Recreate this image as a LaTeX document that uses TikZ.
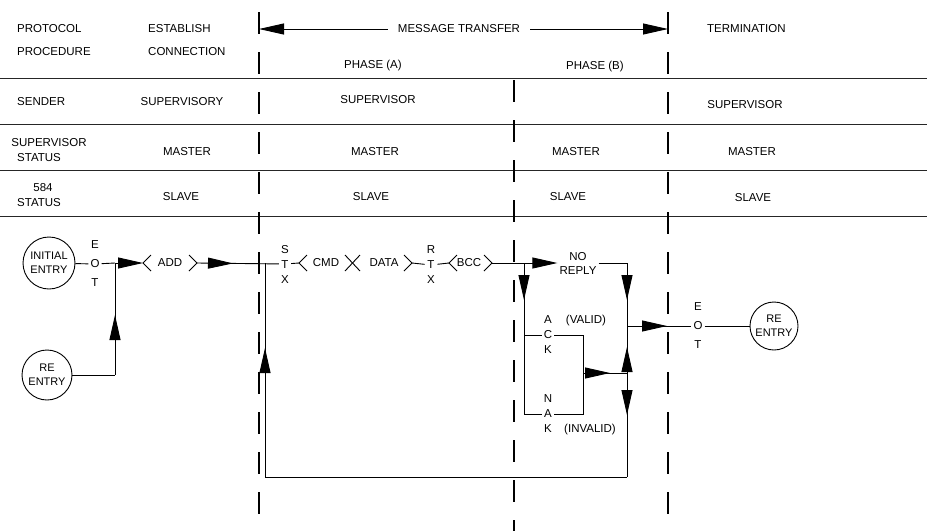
\documentclass[tikz,border=0pt]{standalone}
\usepackage{fontspec}
\setmainfont{Liberation Sans}
\usetikzlibrary{arrows.meta,decorations.markings}
\tikzset{
  lbl/.style   ={inner sep=2pt,font=\fontsize{11.5}{14}\selectfont},
  vtxt/.style  ={align=center,inner sep=2pt,font=\fontsize{11.5}{#1}\selectfont},
  vtxt/.default=15,
  ent/.style   ={circle,draw,line width=0.9pt,inner sep=0pt,align=center,font=\fontsize{11}{14}\selectfont},
  flow/.style  ={line width=0.9pt},
  hrule/.style ={line width=0.8pt,black!85},
  bound/.style ={line width=1.1pt,dash pattern=on 22pt off 18pt},
  arr/.style   ={flow,-{Triangle[length=25pt,width=11pt]}},
  midarr/.style={flow,postaction={decorate},
    decoration={markings,mark=at position #1 with {\arrow{Triangle[length=25pt,width=11pt]}}}},
}
\begin{document}
\begin{tikzpicture}[x=1pt,y=-1pt]
  \useasboundingbox (0,0) rectangle (927,531);
  % table rules and phase boundaries
  \foreach \y in {78,124,170,216}
    \draw[hrule] (0,\y) -- (927,\y);
  \draw[bound] (259,12) -- (259,531);
  \draw[bound] (514,80) -- (514,531);
  \draw[bound] (668,12) -- (668,531);
  \coordinate (vA) at (259,29);
  \coordinate (vC) at (668,29);

  % header row
  \node[lbl,anchor=west] (proto) at (15,29) {PROTOCOL};
  \node[lbl,anchor=west] (proc)  at (15,52) {PROCEDURE};
  \node[lbl,anchor=west] (estab) at (146,29) {ESTABLISH};
  \node[lbl,anchor=west] (conn)  at (146,52) {CONNECTION};
  \node[lbl,inner xsep=10pt] (msg) at (459,29) {MESSAGE TRANSFER};
  \node[lbl,anchor=west] (term)  at (705,29) {TERMINATION};
  \node[lbl] (phA) at (373,66) {PHASE (A)};
  \node[lbl] (phB) at (595,67) {PHASE (B)};
  \draw[arr] (msg) -- (vA);
  \draw[arr] (msg) -- (vC);

  % sender row
  \node[lbl,anchor=west] (sender) at (15,102) {SENDER};
  \node[lbl] (supy) at (182,102) {SUPERVISORY};
  \node[lbl] (supA) at (378,100) {SUPERVISOR};
  \node[lbl] (supT) at (745,105) {SUPERVISOR};

  % supervisor status row
  \node[lbl] (svst) at (49,143) {SUPERVISOR};
  \node[lbl,anchor=west] (svst2) at (15,158) {STATUS};
  \node[lbl] (mE) at (187,152) {MASTER};
  \node[lbl] (mA) at (375,152) {MASTER};
  \node[lbl] (mB) at (576,152) {MASTER};
  \node[lbl] (mT) at (752,152) {MASTER};

  % 584 status row
  \node[lbl] (slst) at (43,188) {584};
  \node[lbl,anchor=west] (slst2) at (15,203) {STATUS};
  \node[lbl] (sE) at (181,197) {SLAVE};
  \node[lbl] (sA) at (371,197) {SLAVE};
  \node[lbl] (sB) at (568,197) {SLAVE};
  \node[lbl] (sT) at (753,198) {SLAVE};

  % connection establishment
  \node[ent,minimum size=52pt] (init) at (49,263) {INITIAL\\ENTRY};
  \node[ent,minimum size=50pt] (reL) at (47,375) {RE\\ENTRY};
  \node[vtxt=19] (eotL) at (95,264) {E\\O\\T};
  \coordinate (jA) at (115,263);
  \coordinate (jR) at (115,375);
  \coordinate (addL) at (143,263);
  \node[lbl] (add) at (170,263) {ADD};
  \coordinate (addR) at (197,263);
  \draw[flow] (151,255) -- (addL) -- (151,271);
  \draw[flow] (189,255) -- (addR) -- (189,271);
  \draw[flow] (init) -- (eotL);
  \draw[flow] (eotL) -- (jA);
  \draw[arr] (jA) -- (addL);
  \draw[flow] (reL) -- (jR);
  \draw[midarr=60pt] (jR) -- (jA);

  % phase (A)
  \node[vtxt] (stx) at (285,264) {S\\T\\X};
  \coordinate (jB) at (265,263);
  \draw[midarr=36pt] (addR) -- (stx);
  \coordinate (cmdL) at (299,263);
  \node[lbl] (cmd) at (326,263) {CMD};
  \node[lbl] (data) at (384,263) {DATA};
  \coordinate (dataR) at (412,263);
  \draw[flow] (307,255) -- (cmdL) -- (307,271);
  \draw[flow] (345,255) -- (360,271);
  \draw[flow] (345,271) -- (360,255);
  \draw[flow] (404,255) -- (dataR) -- (404,271);
  \draw[flow] (stx) -- (cmdL);
  \node[vtxt] (rtx) at (431,265) {R\\T\\X};
  \draw[flow] (dataR) -- (rtx);
  \coordinate (bccL) at (449,263);
  \node[lbl] (bcc) at (469,263) {BCC};
  \coordinate (bccR) at (492,263);
  \draw[flow] (457,255) -- (bccL) -- (457,271);
  \draw[flow] (484,255) -- (bccR) -- (484,271);
  \draw[flow] (rtx) -- (bccL);

  % phase (B)
  \coordinate (jC) at (524,263);
  \node[lbl,align=center] (norep) at (578,263) {NO\\REPLY};
  \draw[arr] (bccR) -- (norep);
  \coordinate (nrC) at (627,263);
  \coordinate (eJ)  at (627,326);
  \coordinate (kJ)  at (627,373);
  \coordinate (lpR) at (627,477);
  \coordinate (lpL) at (265,477);
  \draw[flow] (norep) -- (nrC);
  \draw[midarr=37pt] (nrC) -- (eJ);
  \draw[midarr=26pt] (kJ) -- (eJ);
  \draw[midarr=42pt] (kJ) -- (lpR);
  \draw[flow] (lpR) -- (lpL);
  \draw[midarr=129pt] (lpL) -- (jB);

  \coordinate (ackJ) at (524,335);
  \coordinate (nakJ) at (524,414);
  \node[vtxt] (ack) at (548,335) {A\\C\\K};
  \node[vtxt] (nak) at (548,414) {N\\A\\K};
  \draw[midarr=37pt] (jC) -- (ackJ);
  \draw[flow] (ackJ) -- (nakJ);
  \draw[flow] (ackJ) -- (ack);
  \draw[flow] (nakJ) -- (nak);
  \coordinate (bkT) at (583,335);
  \coordinate (bkM) at (583,373);
  \coordinate (bkB) at (583,414);
  \draw[flow] (ack) -- (bkT) -- (bkB) -- (nak);
  \draw[midarr=27pt] (bkM) -- (kJ);
  \node[lbl] (valid) at (586,321) {(VALID)};
  \node[lbl] (invalid) at (590,430) {(INVALID)};

  % termination
  \node[vtxt=19] (eotR) at (698,326) {E\\O\\T};
  \node[ent,minimum size=48pt] (reR) at (774,326) {RE\\ENTRY};
  \draw[midarr=40pt] (eJ) -- (eotR);
  \draw[flow] (eotR) -- (reR);
\end{tikzpicture}
\end{document}
